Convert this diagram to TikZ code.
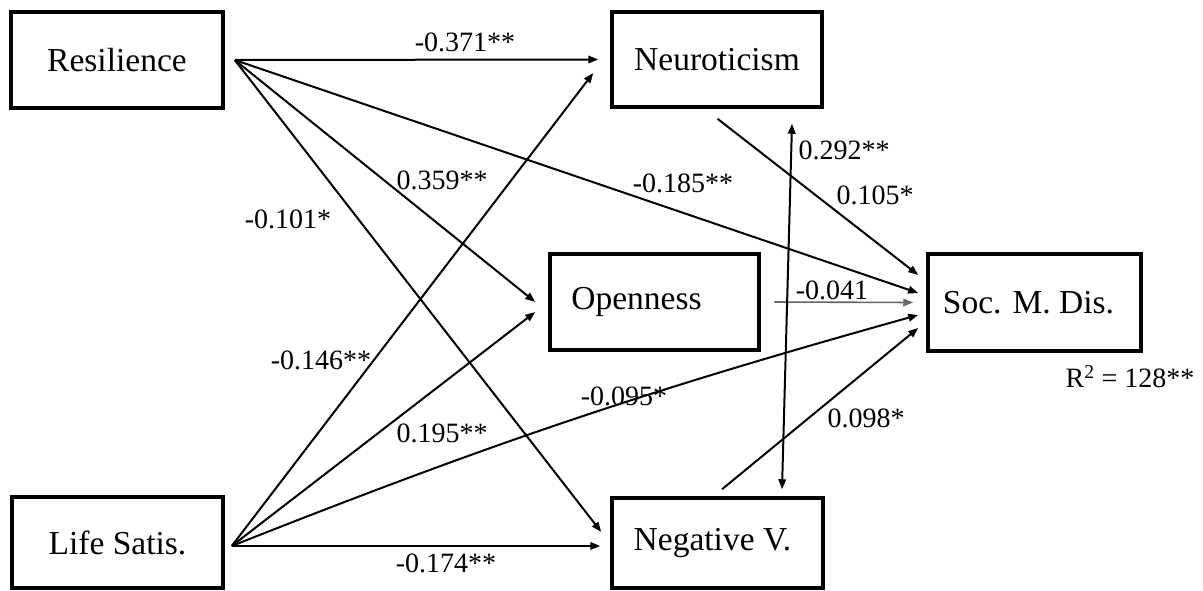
\documentclass[tikz,border=0pt]{standalone}
\usepackage{fontspec}
\setmainfont{Liberation Serif}
\usetikzlibrary{arrows.meta,calc}
\begin{document}
\begin{tikzpicture}[x=1pt,y=-1pt,
  box/.style={draw,line width=3.5pt,inner sep=0pt,font=\fontsize{33.5}{40}\selectfont},
  lbl/.style={inner sep=0pt,font=\fontsize{28}{34}\selectfont},
  path/.style={line width=2pt,-{Triangle[length=10pt,width=7.5pt]}},
  grpath/.style={line width=1.6pt,draw=black!60,-{Triangle[length=10pt,width=7.5pt]}},
  bipath/.style={line width=2pt,{Triangle[length=10pt,width=7.5pt]}-{Triangle[length=10pt,width=7.5pt]}}]
\fill[white] (0,0) rectangle (1203,591);
\useasboundingbox (0,0) rectangle (1203,591);

% boxes
\node[box,minimum width=212,minimum height=96] (res) at (117,60) {Resilience};
\node[box,minimum width=210,minimum height=95] (neu) at (717,59.5) {Neuroticism};
\node[box,minimum width=209,minimum height=96] (ope) at (654.5,302) {Openness\hspace*{36pt}};
\node[box,minimum width=213,minimum height=97] (soc) at (1034.5,302.5) {Soc. M. Dis.\hspace*{12pt}};
\node[box,minimum width=211,minimum height=90] (neg) at (717.5,543) {Negative V.\hspace*{10pt}};
\node[box,minimum width=211,minimum height=91] (lif) at (117.5,542.5) {Life Satis.};

% origins / free ends
\coordinate (rO) at ($(res.east)+(10,0)$);
\coordinate (lO) at ($(lif.east)+(7,3.5)$);
\coordinate (neuO) at ($(neu.south)+(0.5,10)$);
\coordinate (negO) at ($(neg.north)+(4.5,-7)$);
\coordinate (opeO) at ($(ope.east)+(13.5,0)$);
\coordinate (biT) at ($(neu.south)+(75,15)$);
\coordinate (biB) at ($(neg.north)+(64.5,-7)$);

% arrows from Resilience
\draw[path] (rO) -- ($(neu.west)+(-12,0)$);
\draw[path] (rO) -- ($(ope.west)+(-13,0)$);
\draw[path] (rO) -- ($(neg.west)+(-9,-11)$);
\draw[path] (rO) -- ($(soc.west)+(-8,-9.5)$);

% arrows from Life Satis
\draw[path] (lO) -- ($(neu.west)+(-17,13.5)$);
\draw[path] (lO) -- ($(ope.west)+(-13,10)$);
\draw[path] (lO) -- ($(neg.west)+(-10,3)$);
\draw[path] (lO) to[bend left=3] ($(soc.west)+(-8,12.5)$);

% mediators to outcome
\draw[path] (neuO) -- ($(soc.west)+(-8,-27.5)$);
\draw[grpath] (opeO) -- ($(soc.west)+(-13,0)$);
\draw[path] (negO) -- ($(soc.west)+(-8,25.5)$);

% covariance
\draw[bipath] (biT) -- (biB);

% labels
\node[lbl] (l1) at (465,42) {-0.371**};
\node[lbl] (l2) at (442,180) {0.359**};
\node[lbl] (l3) at (288,219) {-0.101*};
\node[lbl] (l4) at (683,183) {-0.185**};
\node[lbl] (l5) at (844,150) {0.292**};
\node[lbl] (l6) at (875,195) {0.105*};
\node[lbl] (l7) at (832,290) {-0.041};
\node[lbl] (l8) at (321,360) {-0.146**};
\node[lbl] (l9) at (442,433) {0.195**};
\node[lbl] (l10) at (624,396) {-0.095*};
\node[lbl] (l11) at (866,418) {0.098*};
\node[lbl] (l12) at (446,563) {-0.174**};
\node[lbl] (r2) at (1130,377) {R\textsuperscript{2} = 128**};
\end{tikzpicture}
\end{document}
